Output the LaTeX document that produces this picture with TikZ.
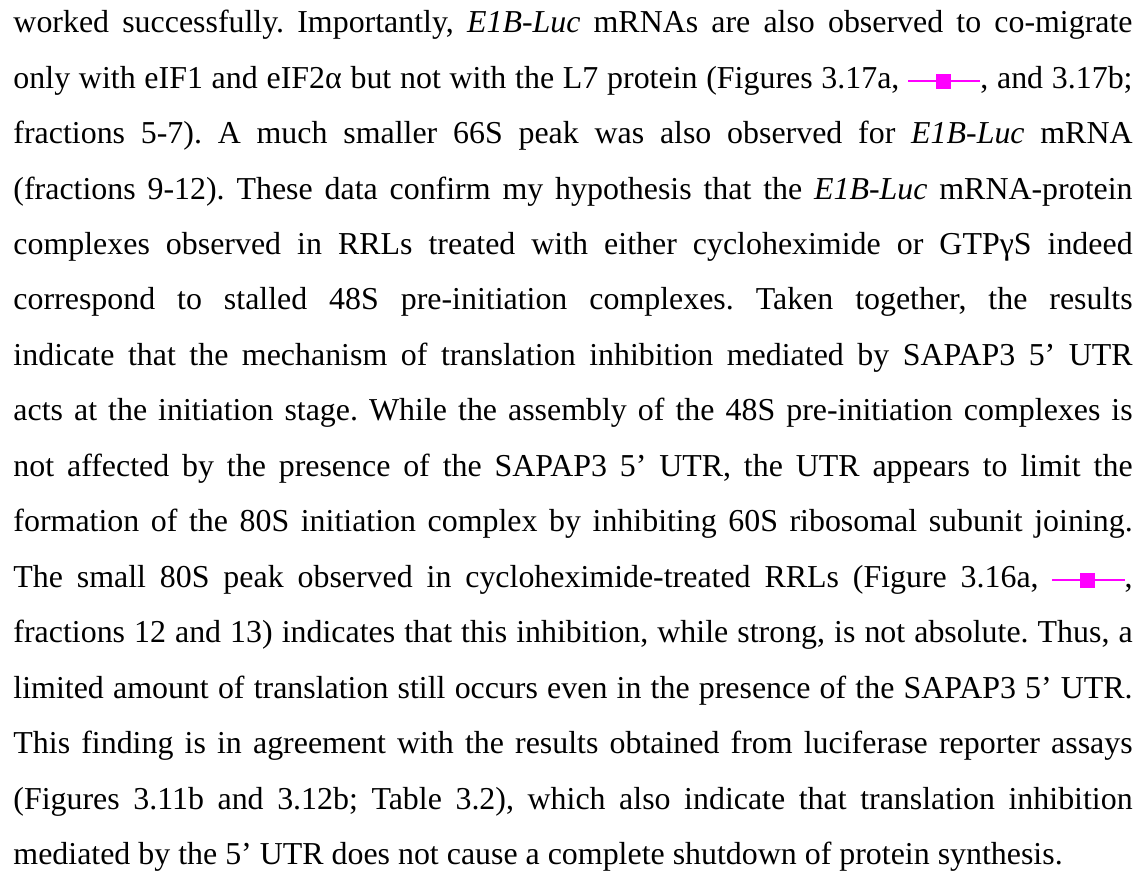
\documentclass[tikz,border=0pt]{standalone}
\usepackage{fontspec}
\setmainfont{Liberation Serif}
\usepackage{tikz}
\usetikzlibrary{positioning}
\definecolor{markmagenta}{RGB}{255, 0, 255}
% inline legend mark: line with a square in the middle
\newcommand{\legendmark}{\textcolor{markmagenta}{\rule[2.5pt]{11.5pt}{0.9pt}\rule[-0.2pt]{6.3pt}{6.3pt}\rule[2.5pt]{12.5pt}{0.9pt}}}

\begin{document}
\begin{tikzpicture}[
    paratext/.style={inner sep=0pt, text width=470pt, align=justify, font=\fontsize{13.4pt}{23.3pt}\selectfont},
]
    \useasboundingbox (0pt,0pt) rectangle (477.5pt,-367.1pt);

    \node[paratext, anchor=north west] (para) at (5.46pt,-4.05pt) {%
        \frenchspacing\hyphenpenalty=10000 \tolerance=10000 \emergencystretch=20pt
        worked successfully. Importantly, \textit{E1B-Luc} mRNAs are also observed to co-migrate\linebreak
        only with eIF1 and eIF2α but not with the L7 protein (Figures 3.17a, \legendmark, and 3.17b;\linebreak
        fractions 5-7). A much smaller 66S peak was also observed for \textit{E1B-Luc} mRNA\linebreak
        (fractions 9-12). These data confirm my hypothesis that the \textit{E1B-Luc} mRNA-protein\linebreak
        complexes observed in RRLs treated with either cycloheximide or GTPγS indeed\linebreak
        correspond to stalled 48S pre-initiation complexes. Taken together, the results\linebreak
        indicate that the mechanism of translation inhibition mediated by SAPAP3 5’ UTR\linebreak
        acts at the initiation stage. While the assembly of the 48S pre-initiation complexes is\linebreak
        not affected by the presence of the SAPAP3 5’ UTR, the UTR appears to limit the\linebreak
        formation of the 80S initiation complex by inhibiting 60S ribosomal subunit joining.\linebreak
        The small 80S peak observed in cycloheximide-treated RRLs (Figure 3.16a, \legendmark,\linebreak
        fractions 12 and 13) indicates that this inhibition, while strong, is not absolute. Thus, a\linebreak
        limited amount of translation still occurs even in the presence of the SAPAP3 5’ UTR.\linebreak
        This finding is in agreement with the results obtained from luciferase reporter assays\linebreak
        (Figures 3.11b and 3.12b; Table 3.2), which also indicate that translation inhibition\linebreak
        mediated by the 5’ UTR does not cause a complete shutdown of protein synthesis.};
\end{tikzpicture}
\end{document}
